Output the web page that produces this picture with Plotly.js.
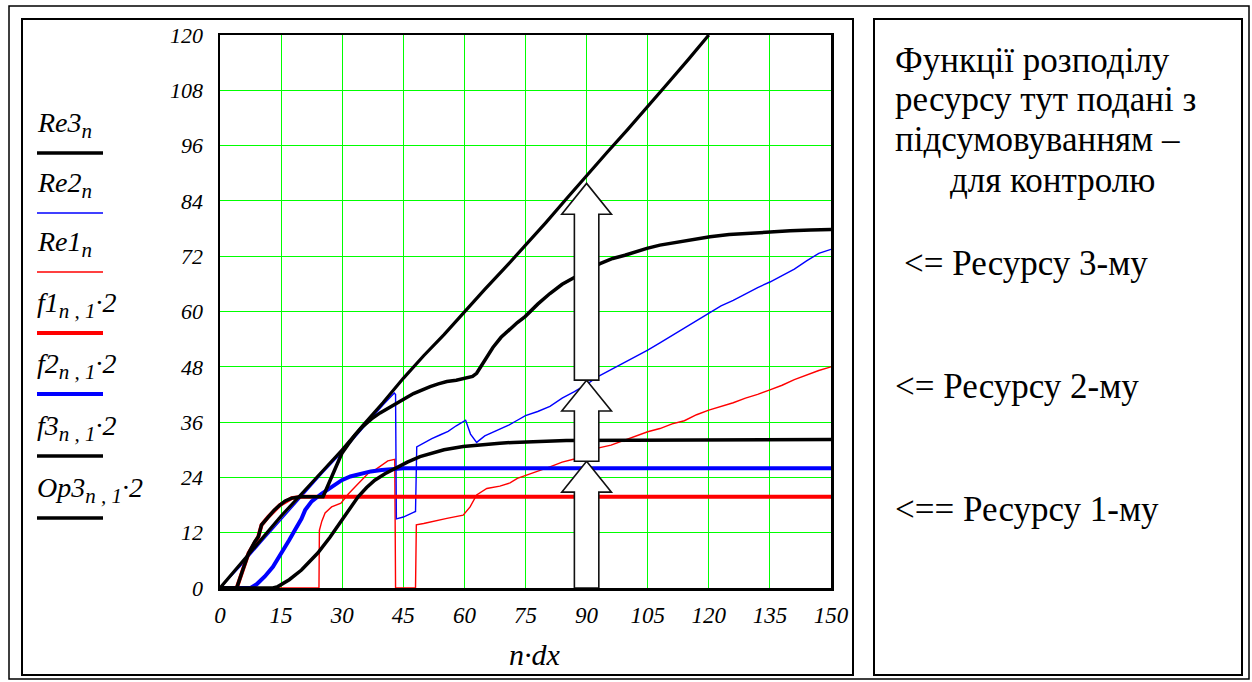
<!DOCTYPE html>
<html>
<head>
<meta charset="utf-8">
<script src="https://cdn.plot.ly/plotly-3.0.1.min.js"></script>
<style>
html,body{margin:0;padding:0;background:#fff;}
#chart{width:1252px;height:682px;}
</style>
</head>
<body>
<div id="chart"></div>
<script>
// ---------- data ----------
const xTicks = [0, 15, 30, 45, 60, 75, 90, 105, 120, 135, 150];
const yTicks = [0, 12, 24, 36, 48, 60, 72, 84, 96, 108, 120];

const re3X = [0, 5, 10, 15, 20, 25, 30, 35, 40, 45, 50, 55, 60, 65, 70, 75, 80, 85, 90, 95, 100, 105, 110, 115, 120];
const re3Y = [0, 5.2, 10.4, 15.6, 20.4, 25.3, 30.0, 35.2, 40.2, 45.5, 50.4, 55.0, 60.0, 64.8, 69.5, 74.3, 79.3, 84.4, 89.5, 94.5, 99.4, 104.4, 109.6, 114.7, 120.0];

const re2X = [0, 5, 10, 15, 20, 25, 30, 35, 40, 42.8, 43.1, 43.3, 45, 47.5, 48.0, 48.3, 50, 52, 54, 56, 58, 60, 60.3, 61.5, 63, 65, 67, 69, 71, 73, 75, 78, 81, 84, 87, 90, 93, 96, 99, 102, 105, 108, 111, 114, 117, 120, 123, 126, 129, 132, 135, 138, 141, 144, 147, 150];
const re2Y = [0, 4.7, 9.8, 14.9, 19.8, 24.8, 29.5, 34.6, 39.7, 42.3, 42.0, 15.0, 15.4, 16.4, 16.6, 30.6, 31.5, 32.4, 33.2, 34.0, 35.2, 36.2, 36.4, 33.4, 31.6, 33.0, 33.8, 34.6, 35.4, 36.4, 37.4, 38.3, 39.4, 41.2, 42.6, 44.2, 46.0, 47.4, 48.8, 50.2, 51.6, 53.2, 54.8, 56.4, 58.0, 59.7, 61.2, 62.4, 63.8, 65.2, 66.4, 67.8, 69.2, 71.0, 72.6, 73.5];

const re1X = [0, 24.3, 24.4, 25, 25.8, 27.4, 29.7, 31.5, 33.9, 36.3, 38, 39.7, 41.2, 42.9, 43.1, 48.0, 48.2, 50, 52.4, 55.7, 59.7, 60.5, 61.4, 63, 65.5, 68.7, 71.2, 73, 75, 78, 81, 84, 87, 90, 93, 96, 99, 102, 105, 108, 111, 114, 117, 120, 123, 126, 129, 132, 135, 138, 141, 144, 147, 150];
const re1Y = [0, 0, 12.5, 14.5, 16.3, 17.6, 18.4, 20.4, 22.6, 24.8, 25.6, 26.6, 27.6, 27.9, 0, 0, 13.7, 14.0, 14.4, 15.1, 15.8, 16.6, 17.6, 20.2, 21.6, 22.1, 22.8, 23.8, 24.4, 25.4, 26.3, 27.3, 28.0, 29.0, 30.4, 31.0, 32.0, 33.0, 33.9, 34.6, 35.6, 36.3, 37.6, 38.6, 39.4, 40.2, 41.2, 42.0, 43.0, 44.0, 45.2, 46.2, 47.2, 48.0];

const f1X = [0, 4.1, 7, 9.4, 10.2, 11.9, 14.7, 17.6, 20, 25.3, 150];
const f1Y = [0, 0, 7.5, 11.1, 13.7, 15.5, 18.0, 19.5, 19.8, 19.8, 19.8];

const f2X = [0, 7.5, 9, 11, 13, 15.1, 17, 18.4, 20, 20.9, 22.5, 25, 27.5, 29.9, 32, 34.8, 37, 39.7, 42, 45, 150];
const f2Y = [0, 0, 0.8, 2.5, 4.6, 7.5, 10.4, 12.6, 15.0, 16.9, 18.8, 20.5, 22.1, 23.4, 24.2, 24.9, 25.3, 25.6, 25.8, 26.0, 26.0];

const f3X = [0, 13, 14.2, 17, 20, 24, 27, 29.9, 32, 33.9, 36, 38, 40.5, 43, 46, 49.1, 52, 55, 59.7, 64, 68.7, 72, 76, 85, 150];
const f3Y = [0, 0, 0.3, 1.8, 3.9, 7.6, 11.0, 14.8, 17.6, 19.8, 21.8, 23.4, 24.8, 26.0, 27.3, 28.5, 29.3, 30.0, 30.7, 31.1, 31.4, 31.6, 31.7, 32.0, 32.2];

const op3X = [0, 4.1, 5.5, 7, 8.5, 9.4, 10.2, 11.9, 13.3, 14.7, 16, 17.6, 20, 25.3, 26.3, 27.4, 28.6, 29.9, 31.5, 33.1, 35, 37.2, 39.3, 41.5, 43.4, 45.5, 47.5, 49.5, 51.6, 53.6, 55.7, 58, 60.6, 62, 63, 64.2, 65.5, 67, 69, 71.2, 73, 74.9, 78, 81, 84, 87.2, 90, 93.3, 96.4, 99.4, 102, 104.8, 108, 112.9, 116, 120.3, 125, 130, 135, 140, 145, 150];
const op3Y = [0, 0, 3.7, 7.5, 10.0, 11.1, 13.7, 15.5, 16.9, 18.0, 18.9, 19.5, 19.8, 19.8, 21.8, 24.1, 26.8, 29.2, 31.2, 33.1, 35.0, 36.7, 38.0, 39.2, 40.1, 41.2, 42.2, 43.0, 43.7, 44.3, 44.8, 45.1, 45.5, 45.9, 46.6, 48.2, 50.2, 52.2, 54.4, 56.3, 57.6, 58.9, 61.6, 63.9, 65.9, 67.5, 69.0, 70.4, 71.5, 72.2, 73.0, 73.7, 74.4, 75.1, 75.7, 76.2, 76.7, 77.0, 77.3, 77.5, 77.7, 77.8];

// block arrows at n·dx = 90 (levels: base, tip1, tip2, tip3)
const arrowX = 90;
const arrowLevels = [0, 27.5, 45.1, 87.8];

const SUB = s => '<sub><span style="font-size:21px">' + s + '</span></sub>';
const legendLabels = [
  '<i>Re3' + SUB('n') + '</i>',
  '<i>Re2' + SUB('n') + '</i>',
  '<i>Re1' + SUB('n') + '</i>',
  '<i>f1' + SUB('n , 1') + '·2</i>',
  '<i>f2' + SUB('n , 1') + '·2</i>',
  '<i>f3' + SUB('n , 1') + '·2</i>',
  '<i>Op3' + SUB('n , 1') + '·2</i>'
];
const legendColors = ['#000000', '#0000ff', '#ff0000', '#ff0000', '#0000ff', '#000000', '#000000'];
const legendWidths = [3.5, 1.3, 1.3, 4, 4, 3.5, 3.5];

const noteLines = ['Функції розподілу', 'ресурсу тут подані з', 'підсумовуванням –', 'для контролю'];
const resourceLabels = ['<= Ресурсу 3-му', '<= Ресурсу 2-му', '<== Ресурсу 1-му'];

// ---------- layout geometry ----------
const W = 1252, H = 682;
const L = 220, R = 421, T = 35, B = 94;
const PW = W - L - R, PH = H - T - B;
const px = x => (x - L) / PW;
const py = y => (H - B - y) / PH;

const SERIF = 'Liberation Serif, Times New Roman, serif';

function tr(x, y, color, width) {
  return {x: x, y: y, type: 'scatter', mode: 'lines', line: {color: color, width: width}, hoverinfo: 'skip', showlegend: false};
}
const traces = [
  tr(re1X, re1Y, '#ff0000', 1.4),
  tr(re2X, re2Y, '#0000ff', 1.4),
  tr(f1X, f1Y, '#ff0000', 4),
  tr(f2X, f2Y, '#0000ff', 4),
  tr(f3X, f3Y, '#000000', 3.5),
  tr(op3X, op3Y, '#000000', 3.5),
  tr(re3X, re3Y, '#000000', 3.2)
];

const shapes = [];
function rectPx(x0, y0, x1, y1, w) {
  shapes.push({type: 'rect', xref: 'paper', yref: 'paper', x0: px(x0), x1: px(x1), y0: py(y0), y1: py(y1),
    line: {color: '#000', width: w}, fillcolor: 'rgba(0,0,0,0)', layer: 'above'});
}
rectPx(9, 6, 1249, 679, 1.5);
rectPx(22, 19, 853, 675, 2);
rectPx(874, 19, 1242, 675, 2);

// block arrows
const shaftHalf = 3, headHalf = 6.1, headLen = 6.7;
for (let i = 0; i < 3; i++) {
  const y0 = arrowLevels[i], tip = arrowLevels[i + 1], hb = tip - headLen;
  const p = `M ${arrowX - shaftHalf} ${y0} L ${arrowX - shaftHalf} ${hb} L ${arrowX - headHalf} ${hb} L ${arrowX} ${tip} ` +
            `L ${arrowX + headHalf} ${hb} L ${arrowX + shaftHalf} ${hb} L ${arrowX + shaftHalf} ${y0} Z`;
  shapes.push({type: 'path', xref: 'x', yref: 'y', path: p, fillcolor: '#ffffff', line: {color: '#111', width: 1.6}, layer: 'above'});
}

const annotations = [];
const legLineY = [153, 213, 272, 333, 394, 456, 518];
for (let i = 0; i < legendLabels.length; i++) {
  shapes.push({type: 'line', xref: 'paper', yref: 'paper', x0: px(37), x1: px(103), y0: py(legLineY[i]), y1: py(legLineY[i]),
    line: {color: legendColors[i], width: legendWidths[i]}});
  annotations.push({xref: 'paper', yref: 'paper', x: px(35), y: py(legLineY[i] - 8), xanchor: 'left', yanchor: 'bottom',
    text: legendLabels[i], showarrow: false, font: {family: SERIF, size: 28, color: '#000'}});
}
annotations.push({xref: 'paper', yref: 'paper', x: px(535), y: py(655), xanchor: 'center', yanchor: 'middle',
  text: '<i>n·dx</i>', showarrow: false, font: {family: SERIF, size: 30, color: '#000'}});

const noteY = [60, 99, 139, 180];
const noteX = [893, 893, 893, 948];
for (let i = 0; i < noteLines.length; i++) {
  annotations.push({xref: 'paper', yref: 'paper', x: px(noteX[i]), y: py(noteY[i]), xanchor: 'left', yanchor: 'middle',
    text: noteLines[i], showarrow: false, font: {family: SERIF, size: 35, color: '#000'}});
}
const resY = [263, 386, 509];
const resX = [902, 893, 893];
for (let i = 0; i < resourceLabels.length; i++) {
  annotations.push({xref: 'paper', yref: 'paper', x: px(resX[i]), y: py(resY[i]), xanchor: 'left', yanchor: 'middle',
    text: resourceLabels[i].replace(/</g, '&lt;'), showarrow: false, font: {family: SERIF, size: 35, color: '#000'}});
}

const layout = {
  width: W, height: H,
  margin: {l: L, r: R, t: T, b: B, pad: 0},
  paper_bgcolor: '#ffffff', plot_bgcolor: '#ffffff',
  font: {family: SERIF, color: '#000'},
  showlegend: false,
  xaxis: {
    range: [0, 150], tickvals: xTicks, ticktext: xTicks.map(String),
    showgrid: true, gridcolor: '#00ff00', gridwidth: 1,
    zeroline: false, showline: true, linecolor: '#000', linewidth: 2.5, mirror: true,
    ticks: '', ticklabelstandoff: 5,
    tickfont: {family: SERIF, size: 23, color: '#000', style: 'italic'}
  },
  yaxis: {
    range: [0, 120], tickvals: yTicks, ticktext: yTicks.map(String),
    showgrid: true, gridcolor: '#00ff00', gridwidth: 1,
    zeroline: false, showline: true, linecolor: '#000', linewidth: 2.5, mirror: true,
    ticks: '', ticklabelstandoff: 10,
    tickfont: {family: SERIF, size: 22, color: '#000', style: 'italic'}
  },
  shapes: shapes,
  annotations: annotations
};

Plotly.newPlot('chart', traces, layout, {staticPlot: true, displayModeBar: false});
</script>
</body>
</html>
